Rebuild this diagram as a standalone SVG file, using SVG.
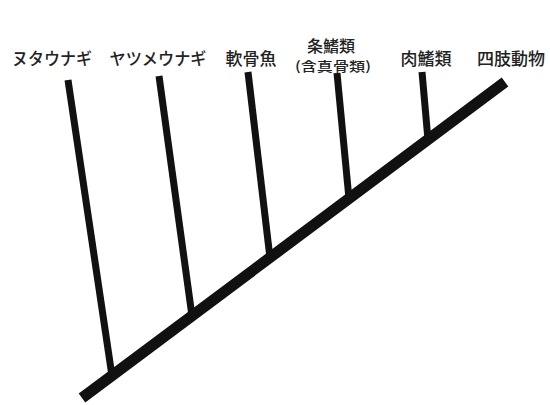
<svg xmlns="http://www.w3.org/2000/svg" width="550" height="405" viewBox="0 0 550 405">
<style>
.lbl{font-family:"Noto Sans CJK JP","Noto Sans CJK SC",sans-serif;font-size:17px;font-weight:500;fill:#222;text-anchor:middle}
.sub{font-size:13px}
.trunk{stroke:#111;stroke-width:11;fill:none}
.br{stroke:#111;stroke-width:7;fill:none}
</style>
<rect width="550" height="405" fill="#fff"/>
<g id="connectors">
<line class="trunk" x1="82" y1="398" x2="505" y2="82"/>
<line class="br" x1="68" y1="80" x2="112" y2="376"/>
<line class="br" x1="159" y1="76" x2="192" y2="316"/>
<line class="br" x1="248" y1="72" x2="270" y2="258"/>
<line class="br" x1="337" y1="73" x2="349" y2="199"/>
<line class="br" x1="422" y1="72" x2="428" y2="140"/>
</g>
<g id="n1"><text class="lbl" x="52" y="65" textLength="80" lengthAdjust="spacingAndGlyphs">ヌタウナギ</text></g>
<g id="n2"><text class="lbl" x="158" y="65" textLength="97" lengthAdjust="spacingAndGlyphs">ヤツメウナギ</text></g>
<g id="n3"><text class="lbl" x="251" y="65">軟骨魚</text></g>
<g id="n4"><text class="lbl" x="331" y="52" style="font-size:16px">条鰭類</text><text class="lbl sub" x="333" y="71" textLength="76" lengthAdjust="spacingAndGlyphs">(含真骨類)</text></g>
<g id="n5"><text class="lbl" x="426" y="65">肉鰭類</text></g>
<g id="n6"><text class="lbl" x="511" y="65">四肢動物</text></g>
</svg>
